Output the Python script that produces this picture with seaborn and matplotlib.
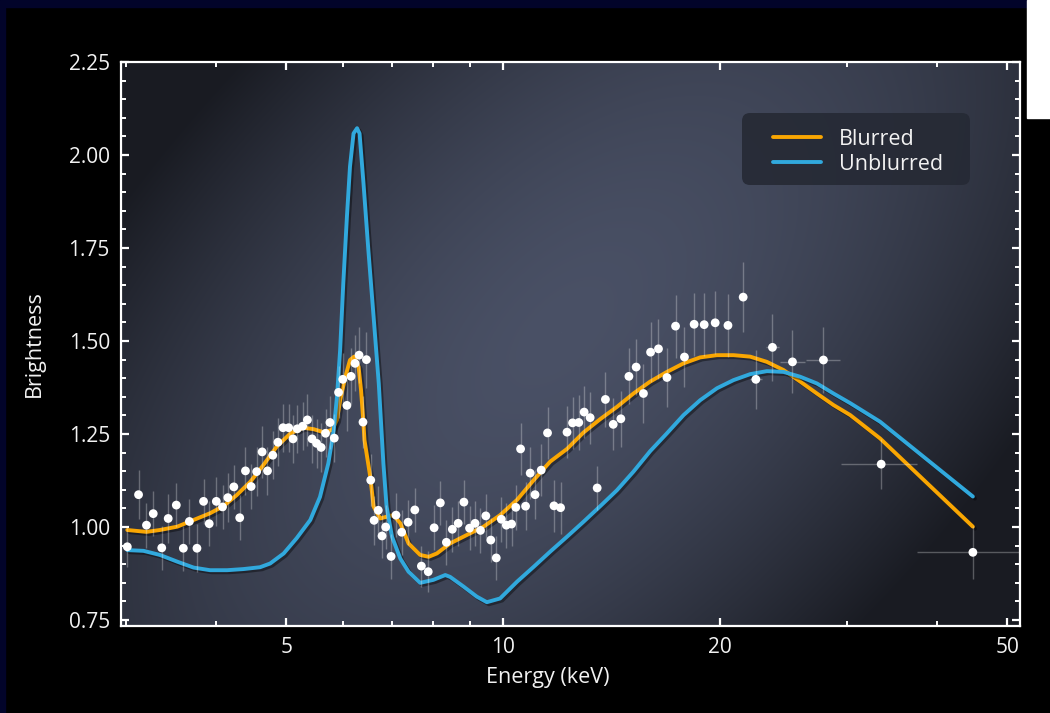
import numpy as np
import pandas as pd
import matplotlib
matplotlib.use("Agg")
import matplotlib.pyplot as plt
import matplotlib.patheffects as pe
from matplotlib.patches import Rectangle, FancyBboxPatch
from matplotlib.transforms import IdentityTransform
from matplotlib.ticker import FixedLocator, MultipleLocator, NullFormatter
import seaborn as sns

# measured spectrum (energy in keV, brightness, error bars)
obs_energy = [3.01, 3.12, 3.20, 3.27, 3.36, 3.43, 3.52, 3.60, 3.67, 3.76,
              3.84, 3.91, 4.00, 4.08, 4.15, 4.23, 4.31, 4.39, 4.47, 4.55,
              4.63, 4.71, 4.79, 4.87, 4.95, 5.04, 5.11, 5.18, 5.27, 5.35,
              5.43, 5.51, 5.59, 5.67, 5.75, 5.83, 5.91, 5.99, 6.07, 6.15,
              6.23, 6.31, 6.39, 6.46, 6.55, 6.62, 6.71, 6.79, 6.87, 6.99,
              7.10, 7.23, 7.38, 7.54, 7.70, 7.87, 8.02, 8.18, 8.34, 8.50,
              8.66, 8.82, 8.98, 9.14, 9.30, 9.46, 9.61, 9.78, 9.94, 10.10,
              10.27, 10.41, 10.57, 10.74, 10.90, 11.07, 11.29, 11.52, 11.76, 12.01,
              12.26, 12.48, 12.73, 12.95, 13.20, 13.50, 13.86, 14.21, 14.56, 14.94,
              15.29, 15.65, 16.01, 16.42, 16.87, 17.34, 17.84, 18.40, 19.00, 19.68,
              20.50, 21.52, 22.41, 23.63, 25.19, 27.81, 33.44, 44.82]
obs_bright = [0.947, 1.087, 1.005, 1.036, 0.944, 1.023, 1.059, 0.943, 1.015, 0.943,
              1.069, 1.009, 1.069, 1.054, 1.079, 1.108, 1.025, 1.151, 1.109, 1.149,
              1.202, 1.151, 1.193, 1.228, 1.267, 1.267, 1.237, 1.264, 1.271, 1.288,
              1.237, 1.225, 1.214, 1.252, 1.281, 1.239, 1.362, 1.397, 1.327, 1.405,
              1.440, 1.462, 1.282, 1.450, 1.126, 1.018, 1.045, 0.976, 1.000, 0.921,
              1.032, 0.986, 1.013, 1.046, 0.895, 0.880, 0.998, 1.065, 0.959, 0.994,
              1.010, 1.067, 0.997, 1.010, 0.991, 1.030, 0.965, 0.917, 1.021, 1.005,
              1.008, 1.053, 1.210, 1.056, 1.145, 1.087, 1.153, 1.253, 1.057, 1.052,
              1.255, 1.280, 1.281, 1.309, 1.294, 1.105, 1.343, 1.276, 1.291, 1.405,
              1.430, 1.359, 1.470, 1.479, 1.402, 1.540, 1.457, 1.545, 1.544, 1.549,
              1.542, 1.618, 1.397, 1.483, 1.444, 1.449, 1.169, 0.932]
obs_yerr = [0.055, 0.065, 0.06, 0.06, 0.06, 0.065, 0.06, 0.06, 0.06, 0.065,
            0.06, 0.06, 0.065, 0.06, 0.065, 0.06, 0.06, 0.065, 0.06, 0.065,
            0.07, 0.065, 0.065, 0.065, 0.065, 0.065, 0.065, 0.065, 0.065, 0.07,
            0.065, 0.065, 0.065, 0.065, 0.07, 0.065, 0.07, 0.07, 0.07, 0.075,
            0.075, 0.075, 0.07, 0.075, 0.07, 0.065, 0.065, 0.06, 0.06, 0.06,
            0.06, 0.06, 0.06, 0.06, 0.055, 0.055, 0.06, 0.06, 0.06, 0.06,
            0.06, 0.06, 0.06, 0.06, 0.06, 0.06, 0.06, 0.06, 0.06, 0.06,
            0.06, 0.06, 0.07, 0.065, 0.07, 0.065, 0.07, 0.07, 0.07, 0.07,
            0.07, 0.07, 0.075, 0.07, 0.07, 0.06, 0.075, 0.07, 0.075, 0.075,
            0.075, 0.08, 0.08, 0.08, 0.08, 0.085, 0.08, 0.085, 0.085, 0.085,
            0.085, 0.095, 0.08, 0.09, 0.085, 0.088, 0.067, 0.072]
obs_xerr = [0.0] * 102 + [0.45, 0.5, 1.0, 1.5, 4.0, 7.3]

# model curves
blurred_energy = [3.01, 3.20, 3.34, 3.53, 3.72, 3.92, 4.09, 4.27, 4.46, 4.65,
                  4.85, 5.07, 5.28, 5.46, 5.63, 5.79, 5.88, 5.94, 6.04, 6.13,
                  6.21, 6.30, 6.35, 6.39, 6.42, 6.54, 6.61, 6.75, 6.90, 7.04,
                  7.20, 7.39, 7.67, 7.88, 8.09, 8.44, 8.91, 9.39, 9.90, 10.45,
                  11.02, 11.62, 12.26, 12.92, 13.63, 14.38, 15.16, 15.99, 16.87, 17.79,
                  18.76, 19.79, 20.87, 22.01, 23.21, 24.48, 25.82, 27.23, 28.71, 30.29,
                  33.33, 44.82]
blurred_bright = [0.992, 0.987, 0.992, 1.001, 1.019, 1.037, 1.056, 1.086, 1.122, 1.167,
                  1.216, 1.252, 1.267, 1.263, 1.255, 1.261, 1.288, 1.341, 1.404, 1.449,
                  1.458, 1.431, 1.368, 1.297, 1.234, 1.135, 1.055, 1.023, 1.028, 1.032,
                  1.010, 0.956, 0.925, 0.920, 0.929, 0.956, 0.979, 1.001, 1.032, 1.073,
                  1.126, 1.176, 1.210, 1.254, 1.290, 1.323, 1.359, 1.391, 1.417, 1.440,
                  1.456, 1.462, 1.462, 1.458, 1.444, 1.422, 1.391, 1.359, 1.328, 1.301,
                  1.238, 1.001]
unblurred_energy = [3.01, 3.17, 3.34, 3.53, 3.72, 3.92, 4.14, 4.36, 4.60, 4.75,
                    4.96, 5.17, 5.40, 5.57, 5.72, 5.82, 5.88, 5.94, 6.00, 6.07,
                    6.13, 6.20, 6.27, 6.32, 6.40, 6.50, 6.61, 6.72, 6.82, 6.89,
                    7.01, 7.20, 7.39, 7.67, 8.00, 8.31, 8.44, 8.81, 9.19, 9.49,
                    9.90, 10.45, 11.02, 11.62, 12.26, 12.92, 13.63, 14.38, 15.16, 15.99,
                    16.87, 17.79, 18.76, 19.79, 20.87, 22.01, 23.21, 24.48, 25.82, 27.23,
                    28.71, 30.29, 33.33, 44.82]
unblurred_bright = [0.938, 0.936, 0.925, 0.907, 0.891, 0.884, 0.884, 0.887, 0.892, 0.902,
                    0.929, 0.970, 1.019, 1.081, 1.171, 1.261, 1.350, 1.476, 1.655, 1.834,
                    1.969, 2.058, 2.072, 2.058, 1.924, 1.745, 1.565, 1.386, 1.171, 1.055,
                    0.974, 0.915, 0.880, 0.850, 0.858, 0.871, 0.866, 0.840, 0.813, 0.798,
                    0.808, 0.853, 0.893, 0.934, 0.974, 1.014, 1.056, 1.099, 1.149, 1.204,
                    1.252, 1.301, 1.341, 1.373, 1.395, 1.411, 1.419, 1.417, 1.404, 1.386,
                    1.359, 1.333, 1.283, 1.082]

x_major = [5, 10, 20, 50]
x_minor = [3, 4, 6, 7, 8, 9, 30, 40]

ORANGE = '#f9a602'
BLUE = '#31a9dd'
TEXT = '#f2f2f2'

sns.set_style('ticks')
plt.rcParams['font.family'] = ['Open Sans', 'DejaVu Sans']

models = pd.concat([
    pd.DataFrame({'energy': blurred_energy, 'brightness': blurred_bright, 'model': 'Blurred'}),
    pd.DataFrame({'energy': unblurred_energy, 'brightness': unblurred_bright, 'model': 'Unblurred'}),
])

fig = plt.figure(figsize=(10.5, 7.13), dpi=100, facecolor='black')
pos = [121 / 1050, 1 - 626 / 713, 899 / 1050, 564 / 713]

# background panel with soft glow
bg = fig.add_axes(pos, zorder=0)
bg.axis('off')
H, W = 564, 899
yy, xx = np.mgrid[0:H, 0:W]
dx = xx - 440.0
dy = yy - 270.0
u = (dx - dy) / np.sqrt(2)
w = (dx + dy) / np.sqrt(2)
r = np.sqrt((u / 800.0) ** 2 + (w / 420.0) ** 2)
t = np.clip(r, 0, 1) ** 1.6
light = np.array([74, 81, 102]) / 255
dark = np.array([25, 27, 34]) / 255
img = light[None, None, :] * (1 - t[..., None]) + dark[None, None, :] * t[..., None]
bg.imshow(img, extent=[0, 1, 0, 1], aspect='auto', interpolation='bilinear')
bg.set_xlim(0, 1)
bg.set_ylim(0, 1)

ax = fig.add_axes(pos, zorder=1)
ax.set_facecolor('none')

shadow = [pe.SimpleLineShadow(offset=(1.5, -1.5), shadow_color='black', alpha=0.4), pe.Normal()]

sns.lineplot(data=models, x='energy', y='brightness', hue='model',
             palette={'Blurred': ORANGE, 'Unblurred': BLUE}, lw=2.8,
             estimator=None, sort=False, ax=ax, zorder=2)
for line in ax.get_lines():
    line.set_path_effects(shadow)

ax.errorbar(obs_energy, obs_bright, yerr=obs_yerr, xerr=obs_xerr, fmt='none',
            ecolor=(1, 1, 1, 0.28), elinewidth=1.0, capsize=0, zorder=3)
sns.scatterplot(x=obs_energy, y=obs_bright, color='white', s=40, edgecolor='none',
                zorder=4, ax=ax, legend=False)

ax.set_xscale('log')
ax.set_xlim(2.95, 52.1)
ax.set_ylim(0.734, 2.25)
ax.xaxis.set_major_locator(FixedLocator(x_major))
ax.xaxis.set_minor_locator(FixedLocator(x_minor))
ax.xaxis.set_minor_formatter(NullFormatter())
ax.set_xticklabels([str(v) for v in x_major])
ax.yaxis.set_major_locator(MultipleLocator(0.25))
ax.yaxis.set_minor_locator(MultipleLocator(0.05))
ax.yaxis.set_major_formatter(plt.FormatStrFormatter('%.2f'))

for sp in ax.spines.values():
    sp.set_color('white')
    sp.set_linewidth(1.6)
ax.tick_params(which='both', direction='in', top=True, right=True, colors='white',
               labelsize=15, pad=8)
ax.tick_params(which='major', length=6, width=1.6)
ax.tick_params(which='minor', length=3.5, width=1.4)
for lab in ax.get_xticklabels() + ax.get_yticklabels():
    lab.set_color(TEXT)

ax.set_xlabel('Energy (keV)', color=TEXT, fontsize=15.5)
ax.set_ylabel('Brightness', color=TEXT, fontsize=15.5)
ax.xaxis.set_label_coords(0.475, -0.072)
ax.yaxis.set_label_coords(-0.085, 0.5)

# legend box drawn separately so its padding can match the original
box = FancyBboxPatch((742, 713 - 185), 228, 72, boxstyle='round,pad=0,rounding_size=8',
                     transform=IdentityTransform(), facecolor='#262a35', alpha=0.92,
                     edgecolor='none', zorder=5, clip_on=False)
ax.add_patch(box)

handles, labels = ax.get_legend_handles_labels()
keep = [(h, l) for h, l in zip(handles, labels) if l in ('Blurred', 'Unblurred')]
leg = ax.legend([k[0] for k in keep], [k[1] for k in keep], loc='upper left',
                bbox_to_anchor=((773 - 121) / 899, (626 - 129) / 564), borderaxespad=0,
                fontsize=15.5, frameon=False, handlelength=2.25, handletextpad=0.8,
                borderpad=0, labelspacing=0.18)
leg.set_zorder(6)
for txt in leg.get_texts():
    txt.set_color(TEXT)
for h in leg.get_lines():
    h.set_linewidth(2.8)
    h.set_path_effects([])

# edge strips of the original picture
fig.patches.append(Rectangle((0, 1 - 7 / 713), 1027 / 1050, 7 / 713,
                             transform=fig.transFigure, color='#02042a', zorder=0))
fig.patches.append(Rectangle((0, 0), 5 / 1050, 1, transform=fig.transFigure,
                             color='#02042a', zorder=0))
fig.patches.append(Rectangle((1027 / 1050, 1 - 118 / 713), 23 / 1050, 118 / 713,
                             transform=fig.transFigure, color='white', zorder=0))

fig.savefig('out.png', dpi=100, facecolor=fig.get_facecolor())
